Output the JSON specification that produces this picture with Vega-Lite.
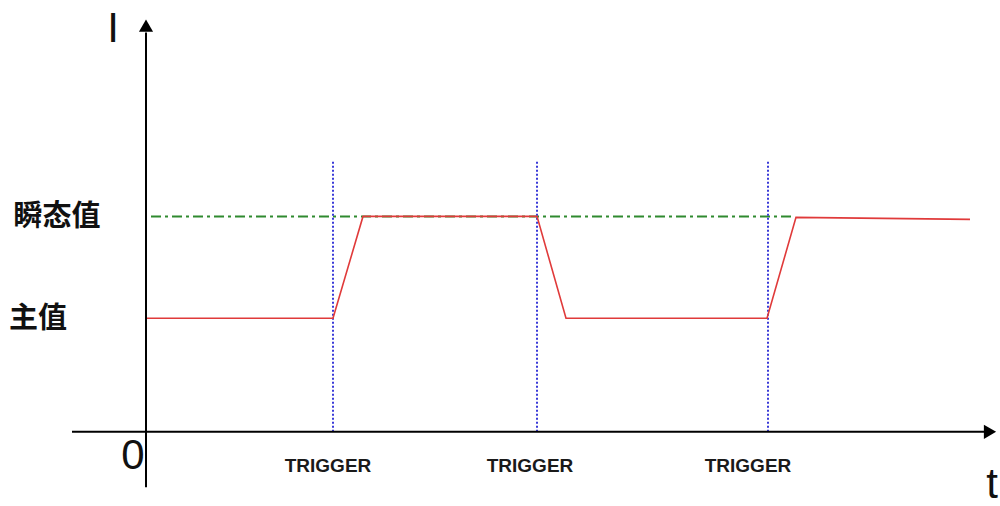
{
  "$schema": "https://vega.github.io/schema/vega-lite/v6.json",
  "autosize": {"type": "fit", "contains": "padding"},
  "width": 1000,
  "height": 506,
  "padding": 0,
  "background": "white",
  "config": {"view": {"stroke": null}},
  "datasets": {
    "axes": [
      {"t": 0, "I": -56, "t2": 0, "I2": 404},
      {"t": -74, "I": 0, "t2": 840, "I2": 0}
    ],
    "arrows": [
      {"t": 0, "I": 411, "shape": "triangle-up"},
      {"t": 844, "I": 0, "shape": "triangle-right"}
    ],
    "triggers": [
      {"t": 187, "I": 0, "I2": 274},
      {"t": 391, "I": 0, "I2": 274},
      {"t": 622, "I": 0, "I2": 274}
    ],
    "transient": [
      {"t": 5, "I": 218, "t2": 649, "I2": 218}
    ],
    "current": [
      {"t": 1, "I": 115},
      {"t": 187, "I": 115},
      {"t": 217, "I": 218},
      {"t": 391, "I": 218},
      {"t": 420, "I": 115},
      {"t": 621, "I": 115},
      {"t": 650, "I": 217},
      {"t": 824, "I": 215}
    ],
    "triggerLabels": [
      {"t": 182, "I": -35, "label": "TRIGGER"},
      {"t": 384, "I": -35, "label": "TRIGGER"},
      {"t": 602, "I": -35, "label": "TRIGGER"}
    ],
    "axisLabels": [
      {"t": -33, "I": 408, "label": "I"},
      {"t": -13, "I": -24, "label": "0"},
      {"t": 846, "I": -54, "label": "t"}
    ],
    "levelLabels": [
      {"t": -89, "I": 217, "label": "瞬态值"},
      {"t": -108, "I": 114, "label": "主值"}
    ]
  },
  "encoding": {
    "x": {"field": "t", "type": "quantitative", "scale": {"domain": [-146, 854], "nice": false, "zero": false}, "axis": null},
    "y": {"field": "I", "type": "quantitative", "scale": {"domain": [-69, 437], "nice": false, "zero": false}, "axis": null}
  },
  "layer": [
    {
      "data": {"name": "transient"},
      "mark": {"type": "rule", "color": "#2f8a2f", "strokeWidth": 2, "strokeDash": [10, 4, 3, 4]},
      "encoding": {"x2": {"field": "t2"}, "y2": {"field": "I2"}}
    },
    {
      "data": {"name": "triggers"},
      "mark": {"type": "rule", "color": "#3a3ad8", "strokeWidth": 2, "strokeDash": [2, 2]},
      "encoding": {"y2": {"field": "I2"}}
    },
    {
      "data": {"name": "axes"},
      "mark": {"type": "rule", "color": "#000000", "strokeWidth": 2},
      "encoding": {"x2": {"field": "t2"}, "y2": {"field": "I2"}}
    },
    {
      "data": {"name": "arrows"},
      "mark": {"type": "point", "filled": true, "color": "#000000", "opacity": 1, "size": 200},
      "encoding": {"shape": {"field": "shape", "type": "nominal", "scale": null}}
    },
    {
      "data": {"name": "current"},
      "mark": {"type": "line", "color": "#e03a3a", "strokeWidth": 1.6},
      "encoding": {}
    },
    {
      "data": {"name": "triggerLabels"},
      "mark": {"type": "text", "font": "Liberation Sans", "fontWeight": "bold", "fontSize": 19, "color": "#1a1a1a", "align": "center", "baseline": "middle"},
      "encoding": {"text": {"field": "label"}}
    },
    {
      "data": {"name": "axisLabels"},
      "mark": {"type": "text", "font": "Liberation Sans", "fontSize": 42, "color": "#111111", "align": "center", "baseline": "middle"},
      "encoding": {"text": {"field": "label"}}
    },
    {
      "data": {"name": "levelLabels"},
      "mark": {"type": "text", "font": "Noto Sans CJK SC", "fontWeight": "bold", "fontSize": 29, "color": "#111111", "align": "center", "baseline": "middle"},
      "encoding": {"text": {"field": "label"}}
    }
  ]
}
